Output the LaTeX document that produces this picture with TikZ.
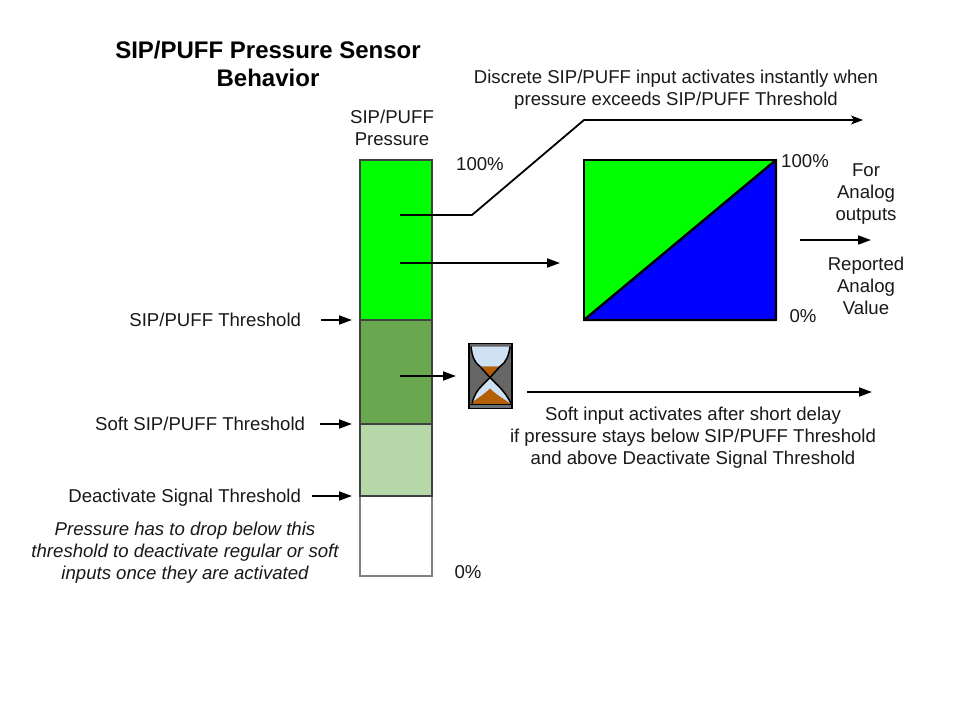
\documentclass[tikz,border=0pt]{standalone}
\usepackage{fontspec}
\setmainfont{Liberation Sans}
\usetikzlibrary{positioning}
\usetikzlibrary{arrows.meta}
\definecolor{softgreen}{HTML}{6AA84F}
\definecolor{palegreen}{HTML}{B6D7A8}
\definecolor{glassblue}{HTML}{CFE2F3}
\definecolor{sand}{HTML}{B45F06}
\definecolor{glassgray}{HTML}{666666}

\begin{document}
\begin{tikzpicture}[
x=1pt,y=-1pt,
node distance = 0pt,
>={Stealth[length=13pt,width=9pt,inset=0pt]},
every node/.style={font=\fontsize{18.6}{22}\selectfont,align=center,inner sep=0pt,outer sep=0pt},
conn/.style={line width=1.8pt,->},
seg/.style={rectangle,minimum width=72pt,draw=black!75,line width=1.4pt},
txt/.style={text=black!90},
title/.style={font=\fontsize{24}{28}\selectfont\bfseries}]
\useasboundingbox (0,0) rectangle (960,720);
\fill[white] (0,0) rectangle (960,720);
\node [title] (head) at (268,64) {SIP/PUFF Pressure Sensor\\Behavior};
% pressure bar, bottom segment first
\node [seg,fill=white,draw=black!50,minimum height=80pt] (idle) at (396,536) {};
\node [seg,fill=palegreen,minimum height=72pt] (light) [above=of idle] {};
\node [seg,fill=softgreen,minimum height=104pt] (soft) [above=of light] {};
\node [seg,fill=green,minimum height=160pt] (full) [above=of soft] {};
\node [txt] (barname) at (392,128) {SIP/PUFF\\Pressure};
\node [txt] (top) at (480,164) {100\%};
\node [txt] (bottom) at (468,572) {0\%};
% thresholds
\node [txt,anchor=east] (thresh) at (301,320) {SIP/PUFF Threshold};
\node [txt,anchor=east] (softthresh) at (305,424) {Soft SIP/PUFF Threshold};
\node [txt,anchor=east] (deact) at (301,498) {Deactivate Signal Threshold};
\coordinate (deactend) at (312,496);
\draw [conn,shorten >=8pt] ([xshift=20pt]thresh.east) -- (soft.north west);
\draw [conn,shorten >=8pt] ([xshift=15pt]softthresh.east) -- (light.north west);
\draw [conn,shorten >=8pt] (deactend) -- (idle.north west);
\node [txt,font=\fontsize{18.6}{22}\selectfont\itshape] (note) at (185,553) {Pressure has to drop below this\\threshold to deactivate regular or soft\\inputs once they are activated};
% analog plot
\node [rectangle,draw=black,line width=2.4pt,fill=green,minimum width=192pt,minimum height=160pt] (plot) at (680,240) {};
\draw [black,line width=2.4pt,fill=blue,line join=round] (plot.south west) -- (plot.north east) -- (plot.south east) -- cycle;
\node [txt] (plottop) at (805,161) {100\%};
\node [txt] (plotbottom) at (803,316) {0\%};
\node [txt] (forout) at (866,194) {For\\Analog\\outputs};
\node [txt] (reported) at (866,286) {Reported\\Analog\\Value};
\coordinate (outA) at (800,240);
\coordinate (outB) at (871,240);
\draw [conn] (outA) -- (outB);
% discrete path
\node [txt] (discrete) at (676,89.5) {Discrete SIP/PUFF input activates instantly when\\pressure exceeds SIP/PUFF Threshold};
\coordinate (discA) at (400,215);
\coordinate (discB) at (472,215);
\coordinate (discC) at (584,120);
\coordinate (discD) at (863,120);
\draw [conn,>={Stealth[length=12pt,width=9pt,inset=3pt]},line join=round] (discA) -- (discB) -- (discC) -- (discD);
\coordinate (anaA) at (400,263);
\coordinate (anaB) at (560,263);
\draw [conn] (anaA) -- (anaB);
% hourglass
\node [rectangle,fill=glassgray,draw=black,line width=1.4pt,minimum width=43pt,minimum height=65pt] (glass) at (490.5,376) {};
\begin{scope}[shift={(glass.north west)}]
\fill [glassblue] (2,3) -- (41,3) .. controls (40,12) and (37,19) .. (31,23) -- (11,23) .. controls (5,19) and (3,12) .. (2,3) -- cycle;
\fill [sand] (11,23) -- (31,23) -- (21,34) -- cycle;
\fill [glassblue] (21,34) -- (13,42) .. controls (8,47) and (5,52) .. (3,60) -- (42,60) .. controls (38,52) and (34,47) .. (29,42) -- cycle;
\fill [sand] (21,45) .. controls (15,51) and (8,55) .. (1,60.5) -- (42,60.5) .. controls (34,55) and (27,51) .. (21,45) -- cycle;
\draw [black,line width=1.5pt] (2,3) .. controls (3,12) and (5,19) .. (11,23) -- (21,34) -- (31,23) .. controls (37,19) and (40,12) .. (41,3);
\draw [black,line width=1.5pt] (3,60) .. controls (5,52) and (8,47) .. (13,42) -- (21,34) -- (29,42) .. controls (34,47) and (38,52) .. (42,60);
\fill [black!50!glassblue] (1,61) rectangle (42,64);
\draw [black,line width=1.4pt] (0,0) rectangle (43,65);
\draw [black,line width=1.1pt] (0,61) -- (43,61);
\end{scope}
\coordinate (softA) at (400,376);
\draw [conn,shorten >=13pt] (softA) -- (glass.west);
\coordinate (softB) at (527,392);
\coordinate (softC) at (872,392);
\draw [conn] (softB) -- (softC);
\node [txt] (softnote) at (693,438) {Soft input activates after short delay\\if pressure stays below SIP/PUFF Threshold\\and above Deactivate Signal Threshold};
\end{tikzpicture}
\end{document}
